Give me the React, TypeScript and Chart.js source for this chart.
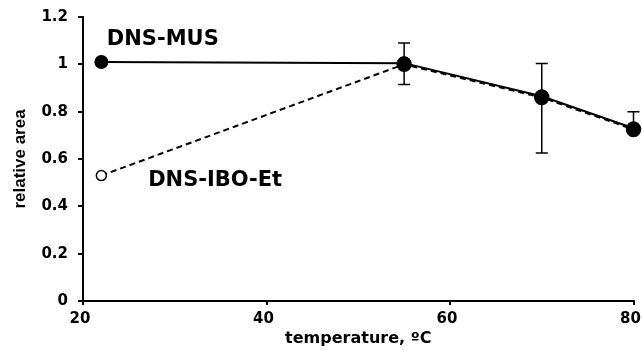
import React, { useEffect, useRef } from "react";
import { Chart, registerables } from "chart.js";

Chart.register(...registerables);

const temps = [22, 55, 70, 80];
const musValues = [1.01, 1.005, 0.865, 0.73];
const iboValues = [0.53, 1.0, 0.86, 0.725];
const errUp = [0, 0.085, 0.138, 0.07];
const errDown = [0, 0.09, 0.24, 0.02];
const seriesNames = ["DNS-MUS", "DNS-IBO-Et"];
const labelAnchors = [
  { x: 22.6, y: 1.105 },
  { x: 27.1, y: 0.51 },
];
const xTitle = "temperature, ºC";
const yTitle = "relative area";

const WIDE = "'DejaVu Sans', Verdana, sans-serif";
const NARROW = "'Liberation Sans', Arial, sans-serif";

const errorBarPlugin = {
  id: "errorBars",
  afterDatasetsDraw(chart: any) {
    const { ctx, scales } = chart;
    const xs = scales.x;
    const ys = scales.y;
    ctx.save();
    ctx.strokeStyle = "#000";
    ctx.lineWidth = 1.5;
    temps.forEach((t, i) => {
      if (!errUp[i] && !errDown[i]) return;
      const px = xs.getPixelForValue(t);
      const top = ys.getPixelForValue(musValues[i] + errUp[i]);
      const bot = ys.getPixelForValue(musValues[i] - errDown[i]);
      ctx.beginPath();
      ctx.moveTo(px, top);
      ctx.lineTo(px, bot);
      ctx.moveTo(px - 6, top);
      ctx.lineTo(px + 6, top);
      ctx.moveTo(px - 6, bot);
      ctx.lineTo(px + 6, bot);
      ctx.stroke();
    });
    ctx.restore();
  },
};

const labelPlugin = {
  id: "seriesLabels",
  afterDraw(chart: any) {
    const { ctx, scales } = chart;
    ctx.save();
    ctx.fillStyle = "#000";
    ctx.font = `bold 21px ${WIDE}`;
    ctx.textAlign = "left";
    ctx.textBaseline = "middle";
    seriesNames.forEach((name, i) => {
      const a = labelAnchors[i];
      ctx.fillText(name, scales.x.getPixelForValue(a.x), scales.y.getPixelForValue(a.y));
    });
    ctx.restore();
  },
};

export default function App() {
  const ref = useRef<HTMLCanvasElement>(null);
  useEffect(() => {
    document.body.style.margin = "0";
    const canvas = ref.current!;
    const chart = new Chart(canvas, {
      type: "line",
      data: {
        datasets: [
          {
            label: seriesNames[1],
            data: temps.map((t, i) => ({ x: t, y: iboValues[i] })),
            borderColor: "#000",
            borderWidth: 2,
            borderDash: [6, 4],
            pointRadius: [5, 7, 7, 7],
            pointBackgroundColor: ["#fff", "#000", "#000", "#000"],
            pointBorderColor: "#000",
            pointBorderWidth: 1.5,
            tension: 0,
            clip: false,
          } as any,
          {
            label: seriesNames[0],
            data: temps.map((t, i) => ({ x: t, y: musValues[i] })),
            borderColor: "#000",
            borderWidth: 2,
            pointRadius: 6,
            pointBackgroundColor: "#000",
            pointBorderColor: "#000",
            tension: 0,
            clip: false,
          } as any,
        ],
      },
      options: {
        animation: false,
        responsive: false,
        devicePixelRatio: 1,
        layout: { padding: { left: 0, right: 0, top: 17, bottom: 0 } },
        plugins: { legend: { display: false }, tooltip: { enabled: false } },
        scales: {
          x: {
            type: "linear",
            min: 20,
            max: 80,
            afterFit: (s: any) => {
              s.height = 50;
              s.paddingRight = 0;
              s.paddingLeft = 0;
            },
            ticks: {
              stepSize: 20,
              color: "#000",
              font: { family: WIDE, size: 15, weight: "bold" },
              padding: 5,
              labelOffset: -3,
              maxRotation: 0,
            },
            grid: {
              display: true,
              drawOnChartArea: false,
              drawTicks: true,
              tickLength: 4,
              color: "#000",
              lineWidth: 2,
            },
            border: { display: true, color: "#000", width: 2 },
            title: {
              display: true,
              text: xTitle,
              color: "#000",
              font: { family: WIDE, size: 16, weight: "bold" },
              padding: { top: 0, bottom: 3 },
            },
          },
          y: {
            type: "linear",
            min: 0,
            max: 1.2,
            afterFit: (s: any) => {
              s.width = 83;
              s.paddingTop = 0;
              s.paddingBottom = 0;
            },
            ticks: {
              stepSize: 0.2,
              color: "#000",
              font: { family: WIDE, size: 15, weight: "bold" },
              padding: 10,
              callback: (v: any) => String(Math.round(Number(v) * 10) / 10),
            },
            grid: {
              display: true,
              drawOnChartArea: false,
              drawTicks: true,
              tickLength: 5,
              color: "#000",
              lineWidth: 2,
            },
            border: { display: true, color: "#000", width: 2 },
            title: {
              display: true,
              text: yTitle,
              color: "#000",
              font: { family: NARROW, size: 17, weight: "bold" },
              padding: { top: 10, bottom: 0 },
            },
          },
        },
      } as any,
      plugins: [errorBarPlugin, labelPlugin],
    });
    return () => chart.destroy();
  }, []);
  return <canvas ref={ref} width={642} height={351} style={{ display: "block" }} />;
}
